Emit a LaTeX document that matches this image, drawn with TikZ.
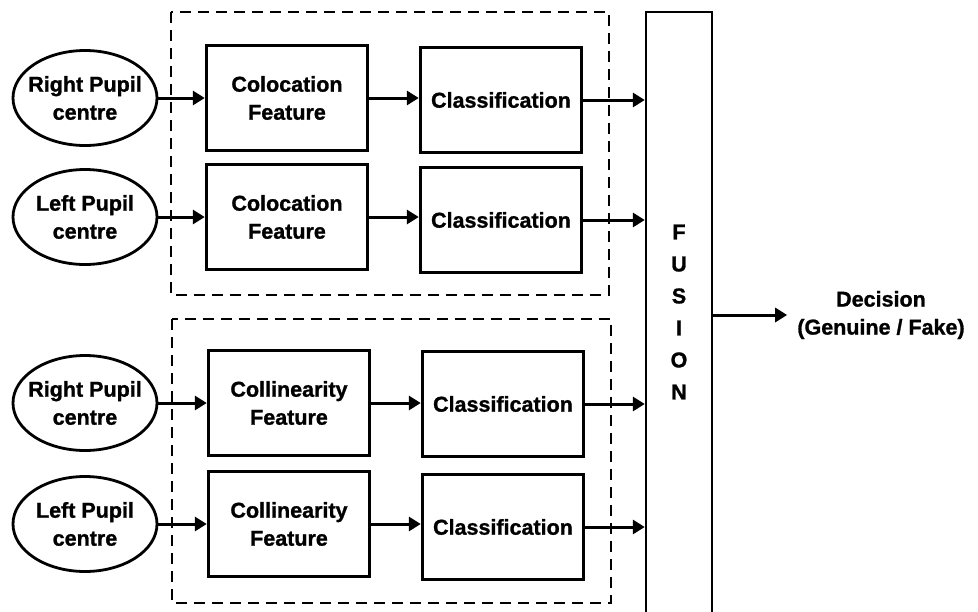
\documentclass[tikz,border=0pt]{standalone}
\usepackage{fontspec}
\setmainfont{Liberation Sans}[BoldFeatures={FakeBold=1.2}]
\usetikzlibrary{shapes,arrows.meta,positioning}

\begin{document}
\begin{tikzpicture}[x=1pt, y=-1pt,
    txt/.style={font=\fontsize{21.5}{28}\selectfont\bfseries, align=center},
    pupil/.style={txt, draw, ellipse, line width=2.8pt, minimum width=144pt, minimum height=95pt, inner xsep=-6pt, inner ysep=0pt},
    block/.style={txt, draw, rectangle, line width=3.4pt, minimum width=161pt, minimum height=105pt},
    group/.style={draw, line width=2.2pt, dash pattern=on 11pt off 7pt},
    flow/.style={-{Triangle[length=12pt,width=14pt]}, line width=3pt}]
\useasboundingbox (0,0) rectangle (978,611);
\clip (0,0) rectangle (978,611);

% Dashed groups
\draw[group] (171,12) rectangle (609,295);
\draw[group] (172,319) rectangle (611,603);

% Fusion column
\node[draw, line width=2.4pt, minimum width=66pt, minimum height=650pt, inner sep=0pt] (fusion) at (679,337) {};
\node[font=\fontsize{21.5}{32}\selectfont\bfseries, align=center] (fusionlabel) at (679,312) {F\\U\\S\\I\\O\\N};

% Four branches
\foreach \n/\y/\side/\feat/\fx/\cx/\cy in {1/98/Right/Colocation/287/501/100,
    2/217/Left/Colocation/287/501/220,
    3/403/Right/Collinearity/289/503/404,
    4/524/Left/Collinearity/289/503/527} {
    \node[pupil] (pupil\n) at (85,\y) {\side{} Pupil\\centre};
    \node[block] (feat\n) at (\fx,\y) {\feat\\Feature};
    \node[block] (cls\n) at (\cx,\cy) {Classification};
    \draw[flow] (pupil\n.east) -- (feat\n.west);
    \draw[flow] (feat\n.east) -- (feat\n.east -| cls\n.west);
    \draw[flow] (cls\n.east) -- (cls\n.east -| fusion.west);
}

% Output
\node[txt, inner xsep=10pt] (decision) at (881,315) {Decision\\(Genuine / Fake)};
\draw[flow] (fusion.east |- decision.west) -- (decision.west);
\end{tikzpicture}
\end{document}
